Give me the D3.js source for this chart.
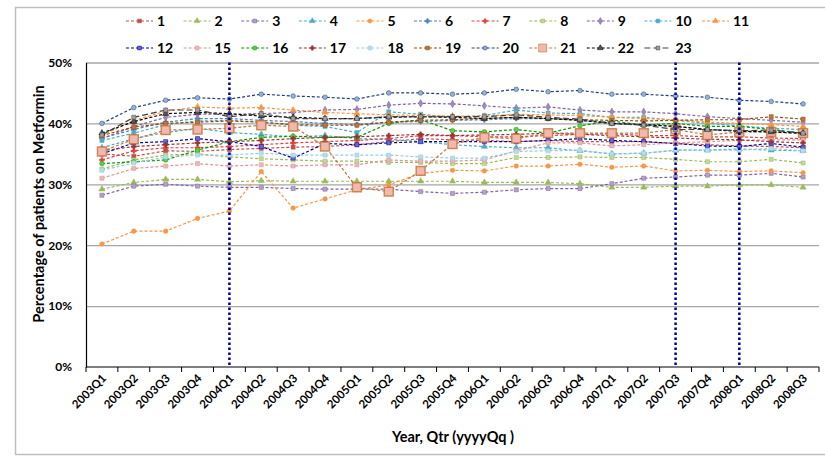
<!DOCTYPE html>
<html>
<head>
<meta charset="utf-8">
<script src="https://cdn.jsdelivr.net/npm/d3@7"></script>
<style>
  body { margin: 0; background: #fff; }
  text { font-family: Lato, "Open Sans", sans-serif; font-weight: bold; fill: #000; }
</style>
</head>
<body>
<div id="chart"></div>
<script>
var quarters = ["2003Q1","2003Q2","2003Q3","2003Q4","2004Q1","2004Q2","2004Q3","2004Q4",
                "2005Q1","2005Q2","2005Q3","2005Q4","2006Q1","2006Q2","2006Q3","2006Q4",
                "2007Q1","2007Q2","2007Q3","2007Q4","2008Q1","2008Q2","2008Q3"];

var seriesNames = ["1","2","3","4","5","6","7","8","9","10","11",
                   "12","15","16","17","18","19","20","21","22","23"];

// percent of patients on metformin, per quarter
var s1  = [35.0,34.6,35.5,35.4,35.7,35.9,36.1,36.2,36.5,37.0,37.5,37.3,37.2,37.0,37.2,37.0,37.0,37.0,36.7,36.5,36.3,36.2,36.0];
var s2  = [29.2,30.3,30.8,30.8,30.4,30.6,30.5,30.5,30.5,30.5,30.5,30.5,30.3,30.3,30.3,30.1,29.5,29.5,29.7,29.7,29.9,29.9,29.5];
var s3  = [28.2,29.7,30.0,29.7,29.5,29.5,29.3,29.2,29.2,29.2,28.8,28.5,28.7,29.1,29.3,29.3,30.1,31.0,31.2,31.5,31.5,31.8,31.2];
var s4  = [36.0,37.5,38.5,39.2,38.5,38.2,37.8,38.0,37.5,37.4,37.0,36.5,36.2,36.0,36.0,35.5,35.0,35.1,35.6,35.6,35.8,35.6,35.5];
var s5  = [20.2,22.3,22.3,24.4,25.6,32.1,26.1,27.6,29.1,29.9,31.8,32.3,32.2,33.0,33.0,33.3,32.8,33.0,32.2,32.3,32.1,32.2,31.9];
var s6  = [37.6,39.0,40.2,40.8,40.8,40.5,40.3,40.0,39.8,40.2,40.3,40.5,40.6,40.8,40.8,40.5,40.0,39.8,39.5,39.0,38.8,38.6,38.3];
var s7  = [34.0,35.5,36.0,36.0,36.2,36.5,36.8,37.0,37.2,37.5,38.0,38.0,37.8,37.8,38.0,38.2,38.3,38.0,38.0,37.8,37.8,37.6,37.5];
var s8  = [32.5,34.0,34.8,35.0,34.5,34.2,34.0,33.8,33.8,33.6,33.6,33.4,33.4,34.4,34.4,34.5,34.4,34.4,34.1,33.7,33.7,34.1,33.5];
var s9  = [37.5,39.5,41.0,41.5,41.5,41.6,41.8,42.2,42.3,43.0,43.3,43.2,42.9,42.5,42.7,42.2,41.9,41.9,41.6,41.1,40.8,40.5,40.2];
var s10 = [37.2,38.4,39.8,40.4,40.5,40.2,39.7,39.5,38.5,41.9,41.5,41.0,41.3,42.2,41.7,41.6,41.0,41.0,40.5,40.0,39.6,39.2,39.0];
var s11 = [38.0,40.5,42.0,42.7,42.5,42.6,42.2,41.8,41.6,41.4,41.3,41.2,41.2,41.5,41.4,41.3,41.0,40.8,40.6,40.2,40.0,39.8,39.5];
var s12 = [35.0,36.8,37.0,37.5,37.0,36.2,34.3,36.7,36.5,36.8,37.0,37.0,37.0,37.0,37.2,37.5,37.2,37.0,36.7,36.3,36.2,36.7,36.1];
var s15 = [31.0,32.6,33.0,33.4,33.0,33.2,33.0,33.2,33.2,34.0,33.8,33.8,34.0,35.5,36.8,36.8,36.3,36.5,36.8,37.0,37.2,37.3,37.3];
var s16 = [33.4,33.7,34.0,35.6,37.0,37.7,37.9,37.7,37.7,40.0,40.6,38.8,38.6,39.0,38.4,39.6,40.4,39.7,40.0,39.5,39.5,39.0,38.4];
var s17 = [35.5,36.2,36.5,36.8,37.0,37.2,37.5,37.7,37.8,38.0,38.2,38.0,38.1,38.2,38.4,38.2,38.0,37.8,37.6,37.4,37.3,37.0,36.8];
var s18 = [32.3,33.5,34.5,34.8,34.8,35.1,34.8,34.8,34.8,34.8,34.5,34.3,34.3,35.4,35.5,35.6,35.0,35.1,35.6,35.6,35.6,35.9,35.5];
var s19 = [38.0,39.4,40.0,40.2,40.4,40.2,39.8,39.7,39.7,40.2,40.5,40.6,40.8,41.0,40.8,40.6,40.5,40.4,40.5,40.6,40.6,41.1,40.7];
var s20 = [40.0,42.6,43.8,44.2,44.0,44.8,44.5,44.3,44.0,45.0,45.0,44.8,45.0,45.6,45.2,45.4,44.8,44.8,44.5,44.3,43.8,43.6,43.2];
var s21 = [35.4,37.4,38.9,39.0,39.2,39.7,39.5,36.2,29.5,28.8,32.2,36.6,37.7,37.5,38.4,38.4,38.4,38.4,39.0,38.1,38.6,38.6,38.4];
var s22 = [38.4,40.3,41.6,41.8,41.6,41.2,41.0,40.8,40.8,41.0,41.1,41.0,40.8,41.0,40.8,40.5,40.0,39.8,39.5,39.0,38.7,38.6,38.4];
var s23 = [38.1,41.0,42.2,42.2,41.1,41.6,40.8,40.8,40.8,41.1,41.1,41.1,41.1,41.4,41.0,40.7,40.0,39.7,39.0,39.0,38.8,38.9,38.4];

var seriesValues = [s1,s2,s3,s4,s5,s6,s7,s8,s9,s10,s11,s12,s15,s16,s17,s18,s19,s20,s21,s22,s23];

var yTicks = [0, 10, 20, 30, 40, 50];
var markedQuarters = ["2004Q1", "2007Q3", "2008Q1"];

// look of each series: line colour, marker shape, marker fill
var styles = {
  "1":  {c: "#c0504d", m: "square",   f: "#c0504d"},
  "2":  {c: "#9bbb59", m: "triangle", f: "#9bbb59"},
  "3":  {c: "#8064a2", m: "square",   f: "#b3a2c7"},
  "4":  {c: "#4bacc6", m: "triangle", f: "#4bacc6"},
  "5":  {c: "#f79646", m: "circle",   f: "#f79646"},
  "6":  {c: "#4f81bd", m: "cross",    f: "#4f81bd"},
  "7":  {c: "#e0403f", m: "cross",    f: "#e0403f"},
  "8":  {c: "#9bbb59", m: "square",   f: "#c3d69b"},
  "9":  {c: "#8064a2", m: "diamond",  f: "#9f88c0"},
  "10": {c: "#4bacc6", m: "square",   f: "#4bacc6"},
  "11": {c: "#f79646", m: "triangle", f: "#f79646"},
  "12": {c: "#000099", m: "square",   f: "#6666dd"},
  "15": {c: "#d99694", m: "square",   f: "#e6b9b8"},
  "16": {c: "#009900", m: "circle",   f: "#66cc44"},
  "17": {c: "#953735", m: "cross",    f: "#953735"},
  "18": {c: "#93cddd", m: "square",   f: "#b7dee8"},
  "19": {c: "#984807", m: "square",   f: "#c0763a"},
  "20": {c: "#1f3f7d", m: "circle",   f: "#95b3d7"},
  "21": {c: "#c0763a", m: "big",      f: "#f2b8b0"},
  "22": {c: "#000000", m: "triangle", f: "#555555"},
  "23": {c: "#404040", m: "square",   f: "#a0a0a0"}
};

var W = 825, H = 456;
var plotLeft = 86, plotRight = 819, plotTop = 62.5, plotBottom = 367;

var svg = d3.select("#chart").append("svg")
    .attr("width", W).attr("height", H);

// outer chart border
svg.append("rect")
    .attr("x", 15.5).attr("y", 7.5)
    .attr("width", 830).attr("height", 447)
    .attr("fill", "none").attr("stroke", "#bfbfbf").attr("stroke-width", 1.5);

var x = d3.scaleBand().domain(quarters).range([plotLeft, plotRight]).paddingInner(0).paddingOuter(0);
var y = d3.scaleLinear().domain([0, 50]).range([plotBottom, plotTop]);

function cx(q) { return x(q) + x.bandwidth() / 2; }

// gridlines
svg.append("g")
    .attr("transform", "translate(" + plotLeft + ",0)")
    .call(d3.axisLeft(y).tickValues(yTicks.slice(1)).tickSize(-(plotRight - plotLeft)).tickFormat(""))
    .call(function(g) {
        g.select(".domain").remove();
        g.selectAll("line").attr("stroke", "#a6a6a6").attr("stroke-width", 1.3);
    });

// y axis labels
svg.append("g")
    .attr("transform", "translate(" + plotLeft + ",0)")
    .call(d3.axisLeft(y).tickValues(yTicks).tickSize(0).tickPadding(14)
          .tickFormat(function(d) { return d + "%"; }))
    .call(function(g) {
        g.select(".domain").attr("stroke", "#000").attr("stroke-width", 1.2);
        g.selectAll("text").attr("font-size", 12).attr("font-family", "Lato, sans-serif")
         .attr("font-weight", "bold");
    });

// x axis: tick marks sit between categories
var xAxis = svg.append("g").attr("transform", "translate(0," + plotBottom + ")");
xAxis.append("line")
    .attr("x1", plotLeft).attr("x2", plotRight)
    .attr("stroke", "#000").attr("stroke-width", 1.2);
xAxis.selectAll(".tk")
    .data(quarters.concat(["end"]))
    .enter().append("line")
    .attr("x1", function(d) { return d === "end" ? plotRight : x(d); })
    .attr("x2", function(d) { return d === "end" ? plotRight : x(d); })
    .attr("y1", 0).attr("y2", 5)
    .attr("stroke", "#000");
xAxis.selectAll(".lbl")
    .data(quarters)
    .enter().append("text")
    .attr("transform", function(d) { return "translate(" + (cx(d) + 5) + ",12) rotate(-45)"; })
    .attr("text-anchor", "end")
    .attr("font-size", 11.5)
    .text(function(d) { return d; });

// axis titles
svg.append("text")
    .attr("transform", "translate(44,204) rotate(-90)")
    .attr("text-anchor", "middle")
    .attr("font-size", 14.5)
    .text("Percentage of patients on Metformin");

svg.append("text")
    .attr("x", 453).attr("y", 442)
    .attr("text-anchor", "middle")
    .attr("font-size", 14.5)
    .text("Year, Qtr (yyyyQq )");

// marker symbols
function markerPath(m, scale) {
    var t = {square: d3.symbolSquare, triangle: d3.symbolTriangle, circle: d3.symbolCircle,
             diamond: d3.symbolDiamond, cross: d3.symbolCross, big: d3.symbolSquare}[m];
    var size = m === "big" ? 80 : (m === "cross" ? 14 : 17);
    return d3.symbol().type(t).size(size * (scale || 1))();
}

var line = d3.line()
    .x(function(d, i) { return cx(quarters[i]); })
    .y(function(d) { return y(d); });

var series = svg.selectAll(".series")
    .data(seriesNames)
    .enter().append("g");

series.append("path")
    .attr("d", function(d, i) { return line(seriesValues[i]); })
    .attr("fill", "none")
    .attr("stroke", function(d) { return styles[d].c; })
    .attr("stroke-width", 1.2)
    .attr("stroke-dasharray", function(d) { return d === "23" ? "6,3" : "3,2"; });

series.each(function(name, i) {
    var st = styles[name];
    d3.select(this).selectAll("path.mk")
        .data(seriesValues[i])
        .enter().append("path")
        .attr("class", "mk")
        .attr("d", markerPath(st.m))
        .attr("transform", function(d, j) { return "translate(" + cx(quarters[j]) + "," + y(d) + ")"; })
        .attr("fill", st.f)
        .attr("stroke", st.c)
        .attr("stroke-opacity", 0.8)
        .attr("stroke-width", st.m === "big" ? 1.5 : 0.6);
});

// dotted reference lines
svg.selectAll(".ref")
    .data(markedQuarters)
    .enter().append("line")
    .attr("x1", function(d) { return cx(d); })
    .attr("x2", function(d) { return cx(d); })
    .attr("y1", plotTop).attr("y2", plotBottom)
    .attr("stroke", "#0000a0")
    .attr("stroke-width", 2.5)
    .attr("stroke-dasharray", "2.5,2.5");

// legend, two rows
var legend = svg.selectAll(".leg")
    .data(seriesNames)
    .enter().append("g")
    .attr("transform", function(d, i) {
        var row = i < 11 ? 0 : 1, col = i < 11 ? i : i - 11;
        return "translate(" + (126 + col * 57.6) + "," + (21 + row * 27) + ")";
    });

legend.append("line")
    .attr("x1", 0).attr("x2", 27)
    .attr("stroke", function(d) { return styles[d].c; })
    .attr("stroke-width", 1.2)
    .attr("stroke-dasharray", function(d) { return d === "23" ? "6,3" : "3,2"; });

legend.append("path")
    .attr("d", function(d) { return markerPath(styles[d].m, 0.8); })
    .attr("transform", "translate(13.5,0)")
    .attr("fill", function(d) { return styles[d].f; })
    .attr("stroke", function(d) { return styles[d].c; })
    .attr("stroke-width", 0.6);

legend.append("text")
    .attr("x", 31).attr("y", 5)
    .attr("font-size", 14)
    .text(function(d) { return d; });
</script>
</body>
</html>
